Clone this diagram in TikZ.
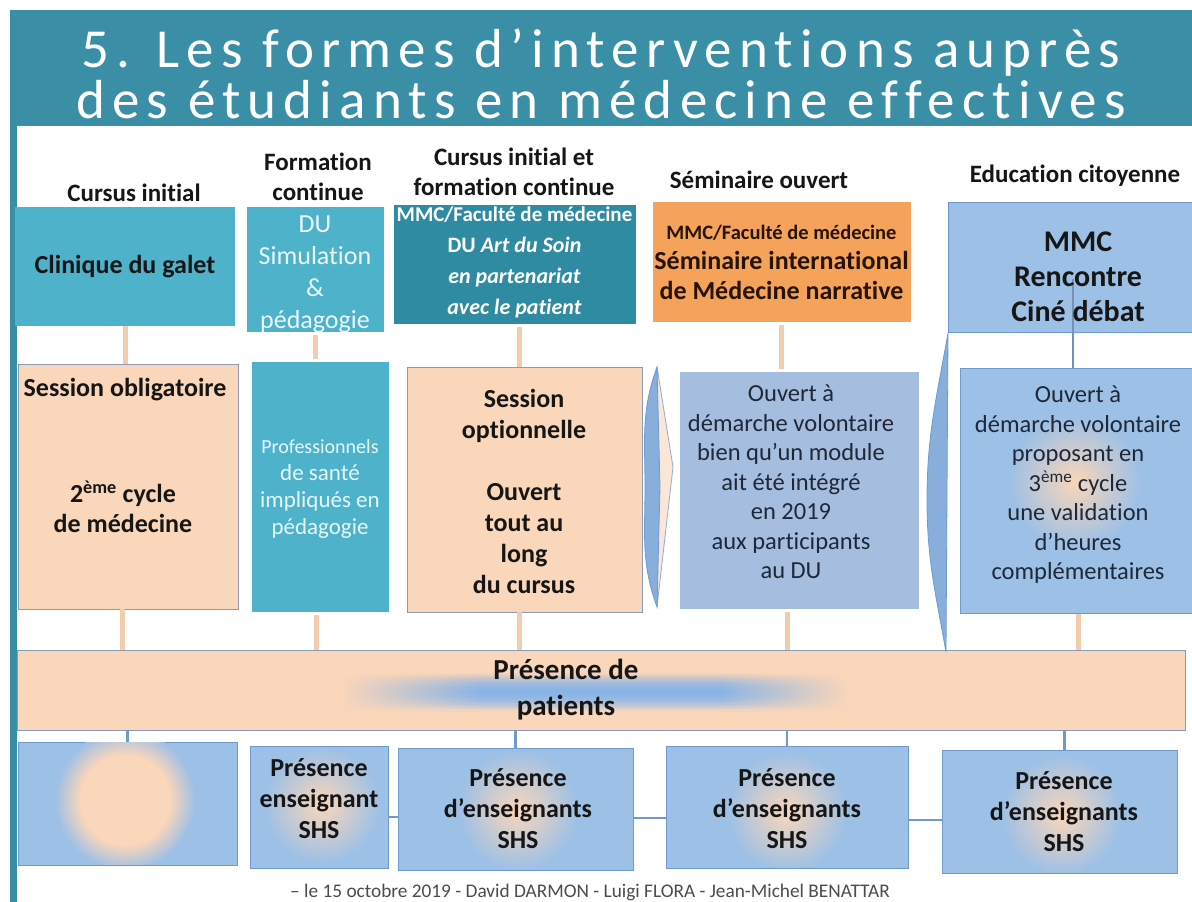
\documentclass[tikz,border=0pt]{standalone}
\usepackage{fontspec}
\setmainfont{Carlito}[Ligatures=NoCommon]
\newfontfamily\titlefont[LetterSpace=13, Ligatures=NoCommon]{Carlito}
\usepackage{tikz}
\usetikzlibrary{shadows}

\definecolor{titleteal}{HTML}{3A8FA7}
\definecolor{cyanbox}{HTML}{4EB2CB}
\definecolor{tealbox}{HTML}{2E8BA2}
\definecolor{orangebox}{HTML}{F5A35A}
\definecolor{peachbox}{HTML}{FAD6BA}
\definecolor{bluebox}{HTML}{9DC0E6}
\definecolor{greyblue}{HTML}{A5BDDF}
\definecolor{blueline}{HTML}{6F9AD0}
\definecolor{peachline}{HTML}{F3CCAE}
\definecolor{greyedge}{HTML}{8A9BB5}
\definecolor{darktext}{HTML}{161616}
\definecolor{navytext}{HTML}{1E2838}
\definecolor{streakblue}{HTML}{8AB4E6}
\pgfdeclareradialshading{disc}{\pgfpointorigin}{color(0bp)=(peachbox); color(16bp)=(peachbox); color(25bp)=(bluebox); color(50bp)=(bluebox)}

\begin{document}
\begin{tikzpicture}[x=1pt, y=-1pt,
	every node/.style={inner sep=0pt, align=center, text=darktext},
	sz/.style 2 args={rectangle, minimum width=#1, minimum height=#2},
	whitebox/.style={draw=white, line width=3pt, drop shadow={opacity=.25, shadow xshift=1pt, shadow yshift=-1.5pt}},
	edgebox/.style={draw=greyedge, line width=.8pt},
	bluebox/.style={fill=bluebox, draw=blueline, line width=1pt},
	hd/.style={font=\fontsize{25}{30.5}\selectfont\bfseries},
	bold/.style={font=\fontsize{#1}{31}\selectfont\bfseries},
	plain/.style={font=\fontsize{24.5}{29.5}\selectfont, text=navytext},
	pline/.style={draw=peachline, line width=5pt},
	bline/.style={draw=blueline, line width=2.5pt}]
	\useasboundingbox (0,0) rectangle (1192,902);
	\fill[white] (0,0) rectangle (1192,902);

	% title band
	\fill[titleteal] (10,10) rectangle (1192,126);
	\fill[titleteal] (10,126) rectangle (17,902);
	\node[font=\titlefont\fontsize{55}{51}\selectfont, text=white] (title) at (601,74)
		{5. Les formes d’interventions auprès\\des étudiants en médecine effectives};

	% column headers
	\node[hd] (hdA) at (134,193) {Cursus initial};
	\node[hd] (hdB) at (318,177) {Formation\\continue};
	\node[hd] (hdC) at (514,172) {Cursus initial et\\formation continue};
	\node[hd] (hdD) at (759,180) {Séminaire ouvert};
	\node[hd] (hdE) at (1075,176) {Education citoyenne};

	% top row
	\node[sz={220}{119}, fill=cyanbox, bold=26] (clin) at (125,266.5) {Clinique du galet};
	\node[sz={140}{128}, fill=cyanbox, whitebox] (dusim) at (315,269) {};
	\node[font=\fontsize{26}{32}\selectfont, text=white!92!cyan] (dusimtxt) at (315,274)
		{DU\\Simulation\\\&\\pédagogie};
	\node[sz={245}{122}, fill=tealbox, whitebox] (art) at (514.5,264) {};
	\node[bold=22, text=white] (arttxt) at (514.5,262)
		{{\fontsize{21}{20}\selectfont MMC/Faculté de médecine}\\DU \textit{Art du Soin}\\\textit{en partenariat}\\\textit{avec le patient}};
	\node[sz={261}{123}, fill=orangebox, whitebox] (semi) at (781.5,261.5) {};
	\node[font=\fontsize{26}{30}\selectfont\bfseries, text=black!85!orange] (semitxt) at (781.5,262)
		{{\fontsize{20.5}{20}\selectfont MMC/Faculté de médecine}\\Séminaire international\\de Médecine narrative};
	\node[sz={246}{130}, bluebox] (mmc) at (1071,267) {};

	% middle row
	\node[sz={220}{245}, fill=peachbox, edgebox] (oblig) at (128,486.5) {};
	\node[bold=26] (obligtxt) at (125,390) {Session obligatoire};
	\node[font=\fontsize{26}{30}\selectfont\bfseries] (cycletxt) at (123,507) {2\textsuperscript{ème} cycle\\de médecine};
	\node[sz={140}{253}, fill=cyanbox, whitebox] (prof) at (320,486.5) {};
	\node[font=\fontsize{23}{27}\selectfont, text=white!90!cyan] (proftxt) at (320,489)
		{{\fontsize{20}{27}\selectfont Professionnels}\\de santé\\impliqués en\\pédagogie};
	\node[sz={235}{245}, fill=peachbox, edgebox] (opt) at (524.5,489.5) {};
	\node[bold=26] (opttxt) at (524,491.5) {Session\\optionnelle\\[31pt]Ouvert\\tout au\\long\\du cursus};
	\node[sz={242}{240}, fill=greyblue, whitebox] (volo) at (799,490) {};
	\node[plain] (volotxt) at (791,482)
		{Ouvert à\\démarche volontaire\\bien qu’un module\\ait été intégré\\en 2019\\aux participants\\au DU};
	\node[sz={236}{245}, bluebox] (cito) at (1078,490.5) {};

	% band
	\node[sz={1168}{80}, fill=peachbox, edgebox] (band) at (601,690) {};

	% bottom row
	\node[sz={219}{123}, bluebox] (b1) at (127.5,803.5) {};
	\node[sz={138}{122}, bluebox] (b2) at (319,807) {};
	\node[sz={235}{122}, bluebox] (b3) at (515.5,809) {};
	\node[sz={242}{122}, bluebox] (b4) at (787,807) {};
	\node[sz={235}{123}, bluebox] (b5) at (1059.5,811.5) {};

	% glows
	\begin{scope}
		\clip ([xshift=1pt,yshift=1pt]b1.south west) rectangle ([xshift=-1pt,yshift=-1pt]b1.north east);
		\shade[shading=disc] (125,800) circle (70pt);
	\end{scope}
	\foreach \n/\cx/\cy/\r in {b2/322/805/58, b3/518/810/60, b4/787/812/60, b5/1062/815/60, cito/1075/482/66} {
		\begin{scope}
			\clip ([xshift=1pt,yshift=1pt]\n.south west) rectangle ([xshift=-1pt,yshift=-1pt]\n.north east);
			\shade[inner color=peachbox, outer color=bluebox] (\cx,\cy) circle (\r pt);
		\end{scope}
	}
	% blue streak in the band
	\foreach \i in {-18,-16,...,18} {
		\pgfmathsetmacro\p{100*(1-(\i/19)^2)}
		\colorlet{mixc}{streakblue!\p!peachbox}
		\shade[left color=peachbox, right color=mixc] (340,691+\i) rectangle (480,693.2+\i);
		\fill[mixc] (479.5,691+\i) rectangle (720.5,693.2+\i);
		\shade[left color=mixc, right color=peachbox] (720,691+\i) rectangle (850,693.2+\i);
	}

	% side shapes
	\filldraw[fill=peachbox!60!white, draw=blueline!80, line width=.8pt] (657,367) -- (673,467) -- (657,607) -- cycle;
	\filldraw[fill=blueline!45!bluebox, draw=blueline, line width=.8pt]
		(657,367) to[out=250,in=90] (645,487) to[out=270,in=110] (657,607) -- (660,487) -- cycle;
	\filldraw[fill=blueline!45!bluebox, draw=blueline, line width=.8pt]
		(948,333) to[out=260,in=90] (927,500) to[out=270,in=100] (946,652) -- cycle;

	% links
	\draw[pline] (clin.south) -- (clin.south |- oblig.north);
	\draw[pline] (dusim.south) -- (dusim.south |- prof.north);
	\draw[pline] ([xshift=4.5pt]art.south) -- ([xshift=4.5pt]art.south |- opt.north);
	\draw[pline] (semi.south) -- (semi.south |- volo.north);
	\draw[draw=blueline!70!gray, line width=1.5pt] ([xshift=2pt,yshift=-12pt]mmc.center) -- ([xshift=2pt]mmc.center |- cito.north);
	\draw[pline] ([xshift=-6pt]oblig.south) -- ([xshift=-6pt]oblig.south |- band.north);
	\draw[pline] ([xshift=-4pt]prof.south) -- ([xshift=-4pt]prof.south |- band.north);
	\draw[pline] ([xshift=-5.5pt]opt.south) -- ([xshift=-5.5pt]opt.south |- band.north);
	\draw[pline] ([xshift=-12pt]volo.south) -- ([xshift=-12pt]volo.south |- band.north);
	\draw[pline] (cito.south) -- (cito.south |- band.north);
	\draw[bline] (b1.north |- band.south) -- (b1.north);
	\draw[bline] (b3.north |- band.south) -- (b3.north);
	\draw[bline] (b4.north |- band.south) -- (b4.north);
	\draw[bline] ([xshift=5pt]b5.north |- band.south) -- ([xshift=5pt]b5.north);
	\draw[bline] ([yshift=-10pt]b2.east) -- ([yshift=-10pt]b2.east -| b3.west);
	\draw[bline] ([yshift=-9pt]b3.east) -- ([yshift=-9pt]b3.east -| b4.west);
	\draw[bline] ([yshift=-13pt]b4.east) -- ([yshift=-13pt]b4.east -| b5.west);

	% texts over glows
	\node[font=\fontsize{30}{35}\selectfont\bfseries] (mmctxt) at (1078,277) {MMC\\Rencontre\\Ciné débat};
	\node[plain] (citotxt) at (1078,485)
		{Ouvert à\\démarche volontaire\\proposant en\\3\textsuperscript{ème} cycle\\une validation\\d’heures\\complémentaires};
	\node[font=\fontsize{29}{36}\selectfont\bfseries] (bandtxt) at (566,690) {Présence de\\patients};
	\node[bold=26] (b2txt) at (319,799) {Présence\\enseignant\\SHS};
	\node[bold=26] (b3txt) at (518,809) {Présence\\d’enseignants\\SHS};
	\node[bold=26] (b4txt) at (787,809) {Présence\\d’enseignants\\SHS};
	\node[bold=26] (b5txt) at (1064,812) {Présence\\d’enseignants\\SHS};

	% footer
	\node[font=\fontsize{19.3}{20}\selectfont, text=black!70] (foot) at (590,892)
		{– le 15 octobre 2019 - David DARMON - Luigi FLORA - Jean-Michel BENATTAR};
\end{tikzpicture}
\end{document}
